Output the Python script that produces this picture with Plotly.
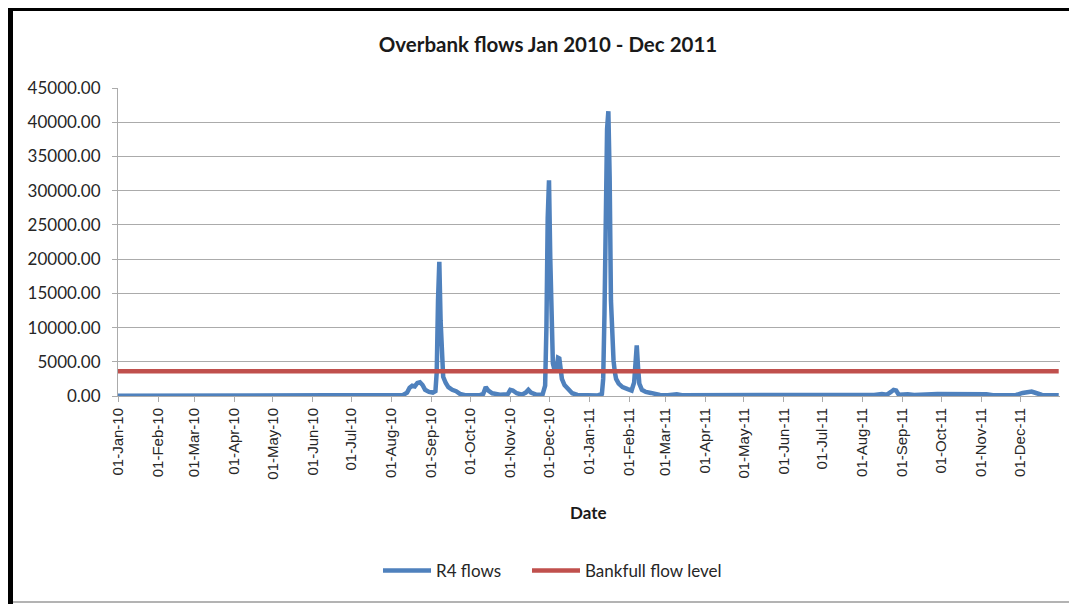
import plotly.graph_objects as go
import pandas as pd

# ---- data ----
flow_dates = [
    "2010-01-01", "2010-02-01", "2010-03-01", "2010-04-01", "2010-05-01", "2010-06-01",
    "2010-07-01", "2010-07-25", "2010-08-05", "2010-08-10", "2010-08-13", "2010-08-15",
    "2010-08-17", "2010-08-19", "2010-08-21", "2010-08-23", "2010-08-25", "2010-08-27",
    "2010-08-30", "2010-09-02", "2010-09-04", "2010-09-05", "2010-09-06", "2010-09-07",
    "2010-09-08", "2010-09-09", "2010-09-10", "2010-09-12", "2010-09-14", "2010-09-17",
    "2010-09-20", "2010-09-23", "2010-09-27", "2010-10-08", "2010-10-11", "2010-10-13",
    "2010-10-15", "2010-10-18", "2010-10-24", "2010-10-30", "2010-11-01", "2010-11-03",
    "2010-11-06", "2010-11-10", "2010-11-13", "2010-11-15", "2010-11-17", "2010-11-21",
    "2010-11-26", "2010-11-28", "2010-11-29", "2010-11-30", "2010-12-01", "2010-12-02",
    "2010-12-03", "2010-12-04", "2010-12-05", "2010-12-06", "2010-12-07", "2010-12-08",
    "2010-12-09", "2010-12-10", "2010-12-11", "2010-12-13", "2010-12-16", "2010-12-19",
    "2010-12-23", "2010-12-30", "2011-01-08", "2011-01-11", "2011-01-12", "2011-01-13",
    "2011-01-14", "2011-01-15", "2011-01-16", "2011-01-17", "2011-01-18", "2011-01-19",
    "2011-01-20", "2011-01-21", "2011-01-22", "2011-01-24", "2011-01-27", "2011-01-31",
    "2011-02-03", "2011-02-05", "2011-02-06", "2011-02-07", "2011-02-08", "2011-02-09",
    "2011-02-11", "2011-02-14", "2011-02-18", "2011-02-21", "2011-02-25", "2011-03-03",
    "2011-03-10", "2011-03-14", "2011-03-28", "2011-04-05", "2011-04-12", "2011-04-22",
    "2011-04-28", "2011-05-08", "2011-05-15", "2011-05-20", "2011-06-10", "2011-07-05",
    "2011-07-10", "2011-08-10", "2011-08-16", "2011-08-20", "2011-08-23", "2011-08-25",
    "2011-08-27", "2011-08-29", "2011-09-05", "2011-09-10", "2011-09-28", "2011-10-03",
    "2011-10-08", "2011-10-30", "2011-11-05", "2011-11-10", "2011-11-28", "2011-12-03",
    "2011-12-07", "2011-12-10", "2011-12-14", "2011-12-18", "2011-12-31",
]
flow_values = [
    20, 20, 15, 15, 10, 10,
    10, 20, 60, 150, 500, 1200,
    1500, 1400, 1900, 2000, 1600, 900,
    600, 500, 700, 3500, 14000, 19600,
    11000, 4500, 2800, 1900, 1300, 900,
    700, 300, 120, 100, 300, 1300,
    800, 400, 200, 250, 900, 800,
    400, 200, 500, 900, 500, 200,
    200, 1500, 10000, 26000, 31500, 20000,
    8500, 4800, 4000, 3700, 4200, 5600,
    5500, 3800, 2500, 1600, 900, 400,
    150, 80, 80, 300, 2500, 12000,
    27000, 39000, 41600, 32000, 14000, 7500,
    5200, 3500, 2500, 1800, 1300, 1000,
    800, 2000, 5500, 7400, 4200, 1800,
    900, 600, 450, 300, 150, 120,
    250, 120, 120, 220, 150, 250,
    120, 250, 250, 120, 100, 200,
    100, 150, 300, 200, 600, 900,
    800, 200, 250, 150, 300, 300,
    150, 150, 250, 120, 150, 450,
    600, 650, 400, 150, 100,
]
bankfull_dates = ["2010-01-01", "2011-12-31"]
bankfull_level = [3600, 3600]

tick_dates = pd.date_range("2010-01-01", "2011-12-01", freq="MS")
tick_labels = [d.strftime("%d-%b-%y") for d in tick_dates]

BLUE = "#4F81BD"
RED = "#C0504D"
GRID = "#ABABAB"

fig = go.Figure()
fig.add_trace(go.Scatter(
    x=flow_dates, y=flow_values, mode="lines", name="R4 flows",
    line=dict(color=BLUE, width=4.5), legend="legend",
))
fig.add_trace(go.Scatter(
    x=bankfull_dates, y=bankfull_level, mode="lines", name="Bankfull flow level",
    line=dict(color=RED, width=4.5), legend="legend2",
))

# page body has an 8px margin: work in reference pixels, shift by OFF
OFF = 8
W, H = 1077 - OFF, 604 - OFF
# plot area in reference pixels: x 118..1060, y 88..396
L, R, T, B = 118, 1060, 88, 396
pw, ph = R - L, B - T

def px(xp):
    return (xp - L) / pw

def py(yp):
    return (B - yp) / ph

LEGEND_FONT = dict(size=17, family="Lato, sans-serif", color="#262626")

fig.update_layout(
    width=W, height=H,
    margin=dict(l=L - OFF, r=W - (R - OFF), t=T - OFF, b=H - (B - OFF)),
    paper_bgcolor="white", plot_bgcolor="white",
    font=dict(family="Lato, Liberation Sans, sans-serif", color="#262626"),
    title=dict(
        text="<b>Overbank flows Jan 2010 - Dec 2011</b>",
        x=(548 - OFF) / W, xref="container", xanchor="center",
        y=1 - (45 - OFF) / H, yref="container", yanchor="middle",
        font=dict(size=20.5, family="Lato, sans-serif", color="#1a1a1a"),
    ),
    showlegend=True,
    legend=dict(
        orientation="h", x=px(378), xanchor="left", y=py(571), yanchor="middle",
        font=LEGEND_FONT, itemwidth=48, bgcolor="rgba(0,0,0,0)",
    ),
    legend2=dict(
        orientation="h", x=px(527), xanchor="left", y=py(571), yanchor="middle",
        font=LEGEND_FONT, itemwidth=48, bgcolor="rgba(0,0,0,0)",
    ),
    xaxis=dict(
        type="date", range=["2010-01-01", "2012-01-01"],
        tickvals=list(tick_dates), ticktext=tick_labels, tickangle=-90,
        tickfont=dict(family="Liberation Sans, Arial, sans-serif", size=15, color="#262626"),
        showgrid=False, showline=True, linecolor=GRID, linewidth=1,
        ticks="outside", ticklen=5, tickcolor=GRID, zeroline=False,
    ),
    yaxis=dict(
        range=[0, 45000], dtick=5000, tick0=0, tickformat=".2f",
        tickfont=dict(family="Lato, sans-serif", size=17, color="#262626"),
        ticklabelstandoff=8,
        showgrid=True, gridcolor=GRID, gridwidth=1,
        showline=True, linecolor=GRID, linewidth=1,
        ticks="outside", ticklen=5, tickcolor=GRID, zeroline=False,
    ),
    annotations=[dict(
        text="<b>Date</b>", x=px(588), y=py(512), xref="paper", yref="paper",
        showarrow=False, xanchor="center", yanchor="middle",
        font=dict(size=17, family="Lato, sans-serif", color="#1a1a1a"),
    )],
    shapes=[
        dict(type="line", xref="paper", yref="paper",
             x0=px(8), x1=px(1085), y0=py(9), y1=py(9),
             line=dict(color="black", width=4)),
        dict(type="line", xref="paper", yref="paper",
             x0=px(10.5), x1=px(10.5), y0=py(7), y1=py(612),
             line=dict(color="black", width=5)),
        dict(type="line", xref="paper", yref="paper",
             x0=px(13), x1=px(1085), y0=py(602), y1=py(602),
             line=dict(color="#9a9a9a", width=1.5)),
    ],
)

fig.write_html("out.html")
